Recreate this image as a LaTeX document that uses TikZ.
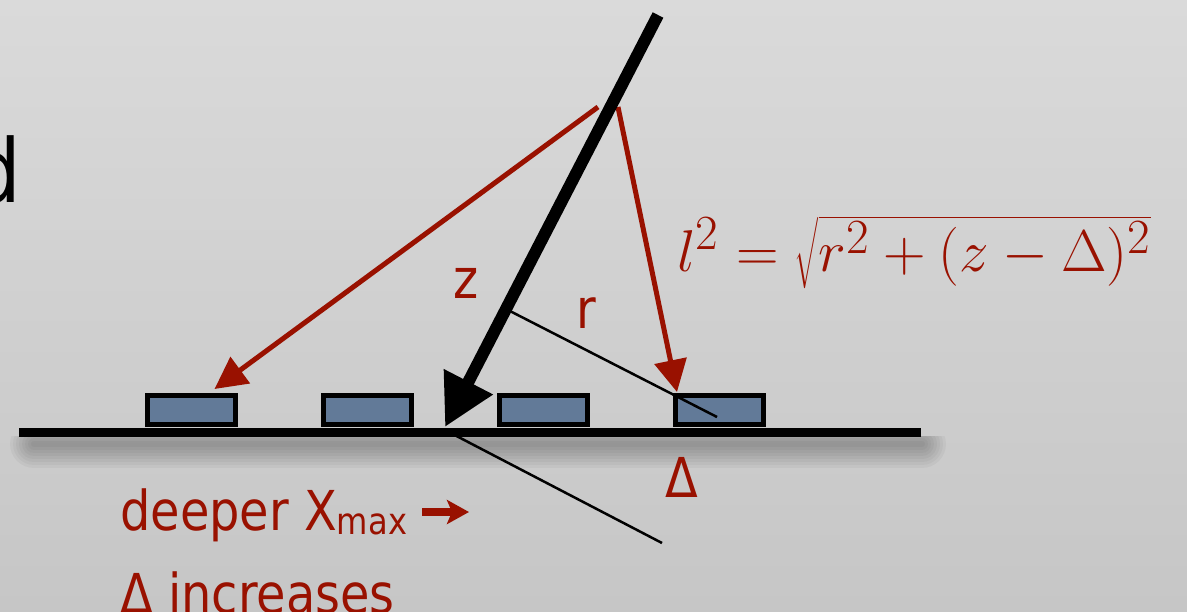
\documentclass[tikz,border=0pt]{standalone}
\usepackage{fontspec}
\newfontfamily\labelfont{DejaVu Sans}[FakeStretch=0.87]
\usetikzlibrary{arrows.meta}
\definecolor{slidered}{RGB}{153,17,0}
\definecolor{tankblue}{RGB}{98,122,152}
\definecolor{bgtop}{RGB}{218,218,218}
\definecolor{bgbottom}{RGB}{198,198,198}
\tikzset{
  tank/.style={draw=black,line width=5pt,fill=tankblue,minimum width=88pt,minimum height=29pt,inner sep=0pt},
  photon/.style={draw=slidered,line width=5pt,-{Triangle[length=32pt,width=32pt]}},
  guide/.style={line width=2.5pt},
  redlabel/.style={text=slidered,inner sep=0pt,font=\labelfont\fontsize{55}{60}\selectfont}
}

\begin{document}
\begin{tikzpicture}[x=1pt,y=-1pt]
\clip (0,0) rectangle (1187,611);
\shade[top color=bgtop,bottom color=bgbottom] (0,0) rectangle (1187,611);
% cut-off title letter
\node[anchor=base east,inner sep=0pt,font=\labelfont\fontsize{88}{90}\selectfont] (title) at (21,202) {d};

% ground, with its shadow
\coordinate (gl) at (19,432);
\coordinate (gr) at (921,432);
\begin{scope}
  \clip (0,436) rectangle (1187,611);
  \foreach \w in {6,12,...,48}
    \draw[opacity=0.035,line width=\w pt,line cap=round] (34,444) -- (922,444);
\end{scope}
\coordinate (core) at (445,427);
\coordinate (lowend) at (662,543);
\draw[guide] ([yshift=-3pt]core) -- (lowend);
\draw[line width=9pt] (gl) -- (gr);

% detectors
\foreach \i/\x in {1/191.5,2/367.5,3/543.5,4/719.5}
  \node[tank] (det\i) at (\x,410) {};

% distance r to the axis
\coordinate (foot) at (506,309);
\coordinate (rend) at (717,417);
\draw[guide] (foot) -- (rend);

% light paths
\coordinate (em1) at (598,107);
\coordinate (em2) at (618,107);
\draw[photon] (em1) -- ([xshift=23pt,yshift=4pt]det1.north);
\draw[photon] (em2) -- ([xshift=-42.5pt,yshift=1pt]det4.north);

% shower axis
\coordinate (top) at (658,15);
\draw[line width=12pt,-{Triangle[length=51pt,width=52pt]}] (top) -- (core);

% labels
\node[redlabel] (zlab) at (466,283) {z};
\node[redlabel] (rlab) at (586,313) {r};
\node[redlabel] (dlab) at (682,477) {Δ};
\node[anchor=base west,text=slidered,inner sep=0pt,scale=2.37,font=\Huge] (formula) at (677,271) {$l^2 = \sqrt{r^2+(z-\Delta)^2}$};

\node[redlabel,anchor=base west] (deeper) at (120,530) {deeper X\raisebox{-4pt}{\fontsize{37}{40}\selectfont max}};
\coordinate (arrowstart) at (422,512);
\coordinate (arrowend) at (469,512);
\draw[slidered,line width=8pt,-{Stealth[length=22pt,width=24pt,inset=5pt]}] (arrowstart) -- (arrowend);
\node[redlabel,anchor=base west] (incr) at (120,613) {Δ increases};
\end{tikzpicture}
\end{document}
